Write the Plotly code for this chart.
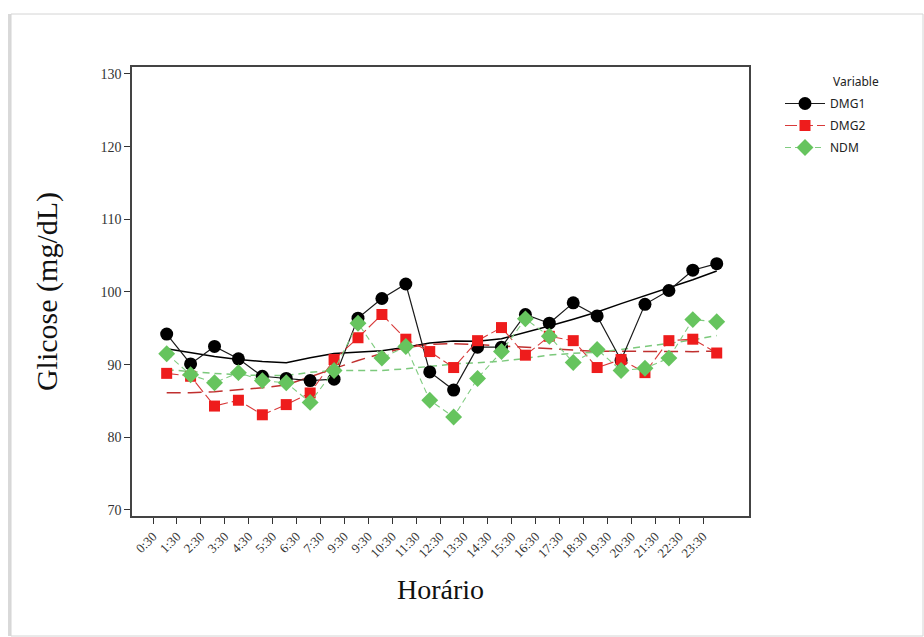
import numpy as np
import plotly.graph_objects as go

# Hourly glucose means (mg/dL) for each group
horario = ["0:30", "1:30", "2:30", "3:30", "4:30", "5:30", "6:30", "7:30",
           "9:30", "9:30", "10:30", "11:30", "12:30", "13:30", "14:30", "15:30",
           "16:30", "17:30", "18:30", "19:30", "20:30", "21:30", "22:30", "23:30"]

dmg1 = [94.2, 90.1, 92.5, 90.8, 88.4, 88.1, 87.8, 88.0, 96.4, 99.1, 101.1, 89.0,
        86.5, 92.4, 92.4, 96.9, 95.7, 98.5, 96.7, 90.6, 98.3, 100.2, 103.0, 103.9]
dmg2 = [88.8, 88.4, 84.3, 85.1, 83.1, 84.5, 86.1, 90.7, 93.7, 96.9, 93.5, 91.8,
        89.6, 93.3, 95.1, 91.3, 93.9, 93.3, 89.6, 90.7, 88.9, 93.3, 93.5, 91.6]
ndm = [91.5, 88.6, 87.5, 88.9, 87.8, 87.5, 84.8, 89.2, 95.7, 90.9, 92.5, 85.1,
       82.8, 88.1, 91.8, 96.3, 93.9, 90.3, 92.1, 89.2, 89.5, 90.9, 96.2, 95.9]


def lowess(x, y, frac=0.5, steps=2):
    """Locally weighted linear smoother with bisquare robustness steps."""
    x = np.asarray(x, float)
    y = np.asarray(y, float)
    n = len(x)
    r = int(np.ceil(frac * n))
    h = np.array([np.sort(np.abs(x - x[i]))[r - 1] for i in range(n)])
    dist = np.abs((x[:, None] - x[None, :]) / h[None, :])
    w = np.clip(dist, 0.0, 1.0)
    w = (1 - w ** 3) ** 3
    robust = np.ones(n)
    fit = np.zeros(n)
    for _ in range(steps + 1):
        for i in range(n):
            wi = w[:, i] * robust
            sw = wi.sum()
            xm = (wi * x).sum() / sw
            ym = (wi * y).sum() / sw
            sxx = (wi * (x - xm) ** 2).sum()
            b = (wi * (x - xm) * (y - ym)).sum() / sxx if sxx > 0 else 0.0
            fit[i] = ym + b * (x[i] - xm)
        res = y - fit
        s = np.median(np.abs(res))
        u = np.clip(res / (6 * s), -1, 1)
        robust = (1 - u ** 2) ** 2
    return fit


pos = np.arange(len(horario))          # sample positions
tick_pos = pos - 0.57                  # category ticks sit just left of each sample

W, H = 924, 637
ML, MR, MT, MB = 132, 175, 67, 121
PW, PH = W - ML - MR, H - MT - MB


def px(xp):
    return (xp - ML) / PW


def py(yp):
    return (H - MB - yp) / PH


serif = "Liberation Serif, Times New Roman, serif"
sans = "Noto Sans, Open Sans, sans-serif"

series = [
    ("DMG1", dmg1, dict(symbol="circle", size=13, color="#000000"),
     dict(color="#1a1a1a", width=1.2, dash="solid"),
     dict(color="#000000", width=1.5, dash="solid")),
    ("DMG2", dmg2, dict(symbol="square", size=11, color="#ee1c1c"),
     dict(color="#d83a3a", width=1.1, dash="12px,4px"),
     dict(color="#c0302f", width=1.5, dash="14px,7px")),
    ("NDM", ndm, dict(symbol="diamond", size=13, color="#66c45e"),
     dict(color="#80cc80", width=1.1, dash="6px,4px"),
     dict(color="#7cc97c", width=1.5, dash="7px,5px")),
]

fig = go.Figure()

# smoothed trends drawn first, underneath the data
for name, vals, mk, ln, sm in series:
    fig.add_trace(go.Scatter(x=pos, y=lowess(pos, vals), mode="lines",
                             line=sm, showlegend=False, hoverinfo="skip"))

for name, vals, mk, ln, sm in series:
    fig.add_trace(go.Scatter(x=pos, y=vals, mode="lines+markers", name=name,
                             legendgroup=name, marker=mk, line=ln))

# page card behind the chart
shapes = [
    dict(type="rect", xref="paper", yref="paper", layer="below",
         x0=px(8), x1=px(12), y0=py(636), y1=py(14),
         fillcolor="#d9d9d9", line=dict(width=0)),
    dict(type="rect", xref="paper", yref="paper", layer="below",
         x0=px(11), x1=px(923), y0=py(636), y1=py(14),
         fillcolor="#ffffff", line=dict(color="#d4d4d4", width=1)),
]

fig.update_layout(
    width=W, height=H,
    margin=dict(l=ML, r=MR, t=MT, b=MB),
    paper_bgcolor="#ffffff", plot_bgcolor="#ffffff",
    shapes=shapes,
    showlegend=True,
    legend=dict(x=px(780), y=py(89), xanchor="left", yanchor="top",
                font=dict(family=sans, size=12, color="#222222"),
                bgcolor="rgba(0,0,0,0)", tracegroupgap=3, itemwidth=40),
    annotations=[dict(text="Variable", x=px(831), y=py(81), xref="paper",
                      yref="paper", xanchor="left", yanchor="middle",
                      showarrow=False,
                      font=dict(family=sans, size=12, color="#222222"))],
    xaxis=dict(range=[-1.45, 24.35], tickmode="array", tickvals=tick_pos,
               ticktext=horario, tickangle=-45, ticks="outside", ticklen=6,
               tickwidth=1.2, tickcolor="#333333", showgrid=False,
               zeroline=False, showline=True, linecolor="#444444",
               linewidth=1.6, mirror=True,
               tickfont=dict(family=serif, size=13, color="#333333"),
               title=dict(text="Horário", standoff=20,
                          font=dict(family=serif, size=28, color="#111111"))),
    yaxis=dict(range=[69.17, 130.96], tickvals=[70, 80, 90, 100, 110, 120, 130],
               ticks="outside", ticklen=6, tickwidth=1.2, tickcolor="#333333",
               showgrid=False, zeroline=False, showline=True,
               linecolor="#444444", linewidth=1.6, mirror=True,
               tickfont=dict(family=serif, size=14, color="#333333"),
               title=dict(text="Glicose (mg/dL)", standoff=34,
                          font=dict(family=serif, size=30, color="#111111"))),
)

fig.write_html("out.html")
